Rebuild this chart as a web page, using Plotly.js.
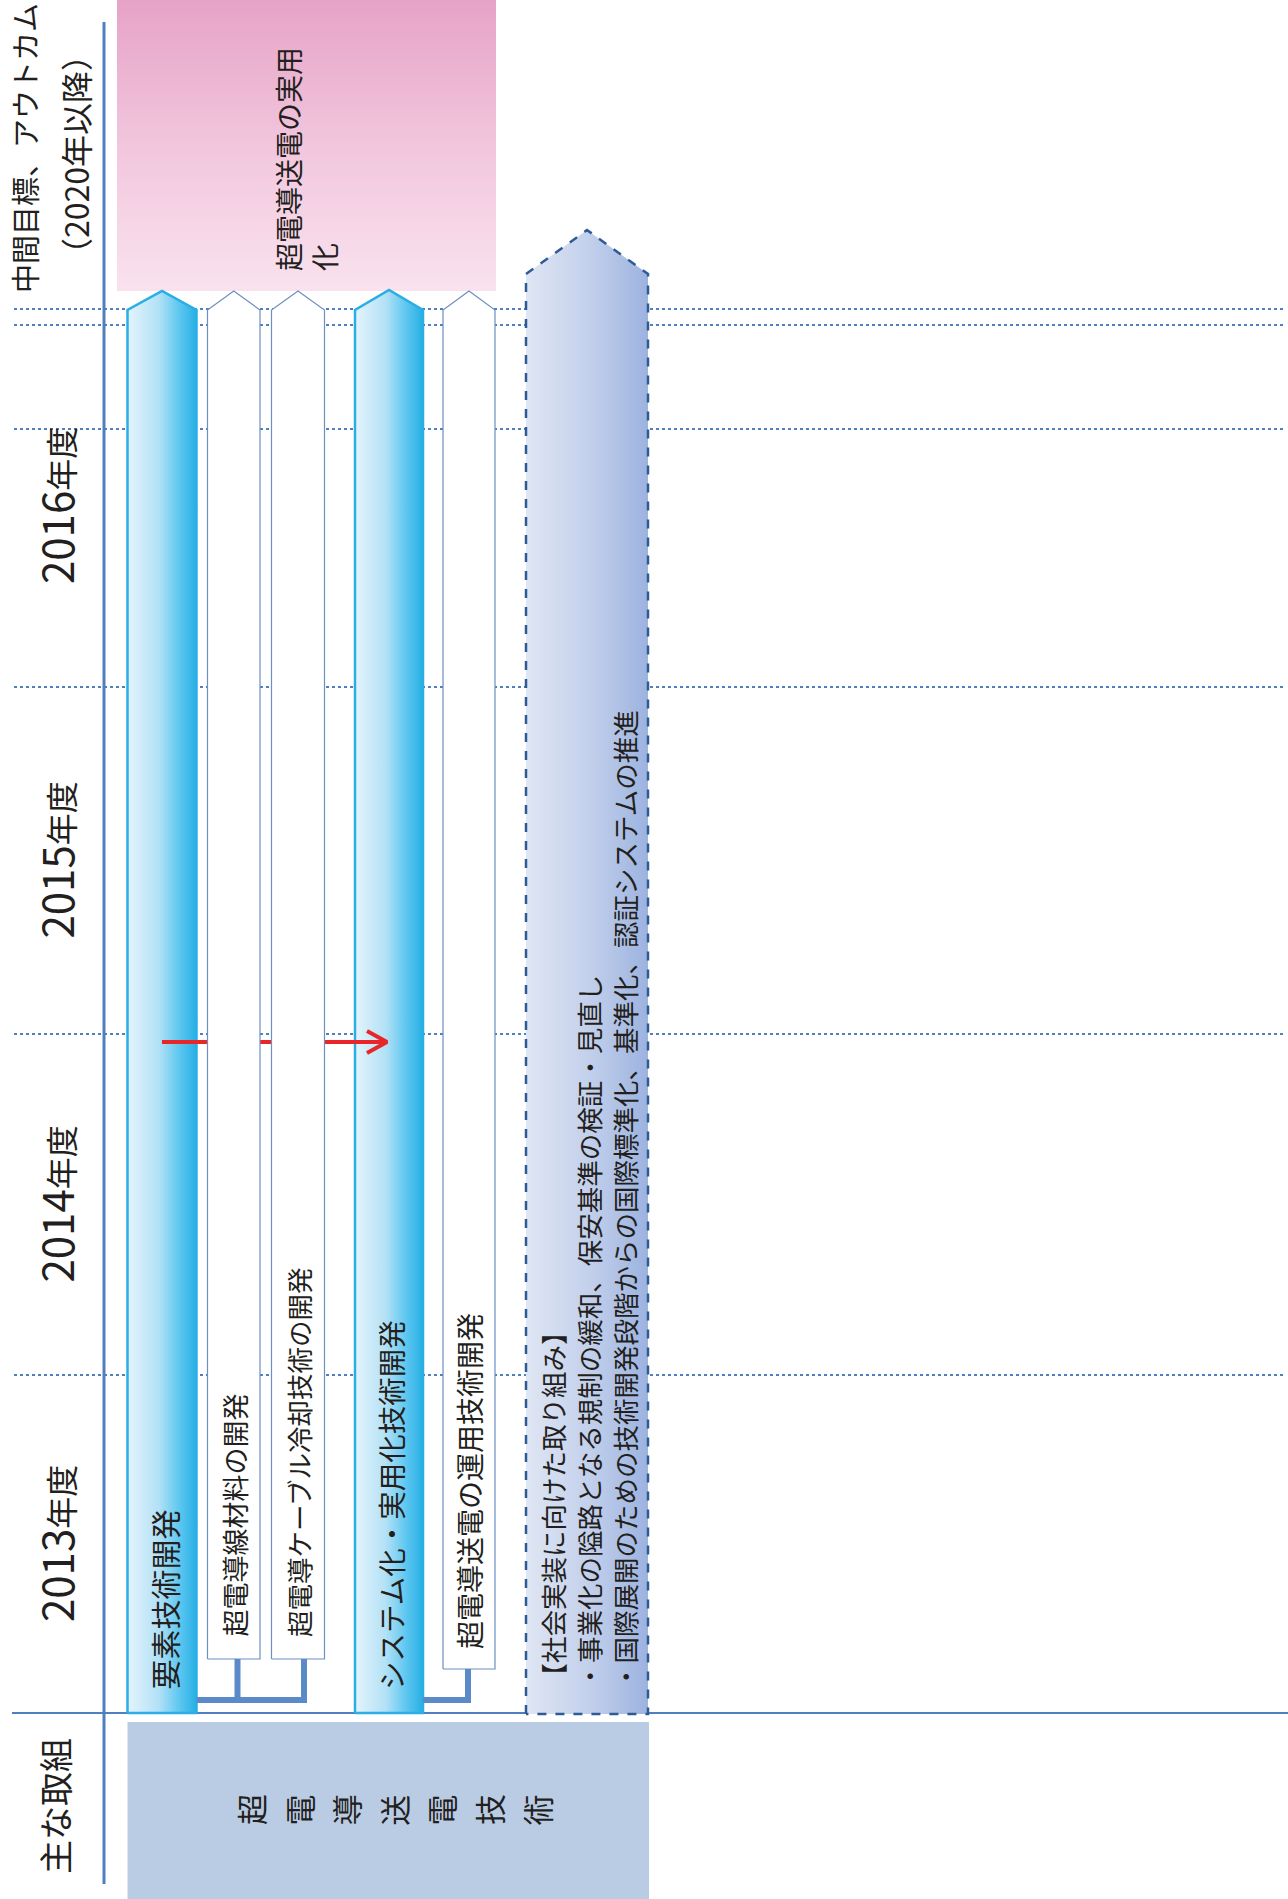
<!DOCTYPE html>
<html>
<head>
<meta charset="utf-8">
<script src="https://cdn.plot.ly/plotly-3.0.1.min.js"></script>
<style>
html,body{margin:0;padding:0;background:#fff;}
#chart{width:1288px;height:1899px;}
</style>
</head>
<body>
<div id="chart"></div>
<script>
// ---------------- DATA (texts of the roadmap) ----------------
const fiscalYears = ['2013', '2014', '2015', '2016'];
const yearSuffix = '年度';
const outcomeHeader = ['中間目標、アウトカム', '（2020年以降）'];
const rowHeader = '主な取組';
const themeName = '超電導送電技術';
const goalText = ['超電導送電の実用', '化'];
const mainTasks = ['要素技術開発', 'システム化・実用化技術開発'];
const subTasks = [['超電導線材料の開発', '超電導ケーブル冷却技術の開発'], ['超電導送電の運用技術開発']];
const socialLines = [
  '【社会実装に向けた取り組み】',
  '・事業化の隘路となる規制の緩和、保安基準の検証・見直し',
  '・国際展開のための技術開発段階からの国際標準化、基準化、認証システムの推進'
];

// ---------------- LAYOUT GEOMETRY (pixels) ----------------
const W = 1288, H = 1899;
const FONT = '"Noto Sans CJK JP", "Noto Sans", sans-serif';
const TXT = '#231f20';
const baseY = 1713;            // solid horizontal line (start of 2013)
const yearLines = [1713, 1375, 1034, 687, 325]; // band borders bottom->top
const extraDotted = [309, 429];
const lineBlue = '#4f7fbf';

// bar geometry: [x0, x1, shoulder, peak, bottom]
const mainGeom = [[127.5, 196.5, 310, 291, 1713], [355, 423, 310, 290, 1713]];
const subGeom = [[[207.5, 260, 310, 291, 1659], [271.5, 324.5, 310, 291, 1659]], [[443, 495, 310, 291, 1669]]];
const socialGeom = [526, 648, 274, 230, 1714];

const traces = [];
const shapes = [];
const ann = [];

function pentagon(g) {
  const [x0, x1, sh, pk, bt] = g;
  return {x: [x0, x0, (x0 + x1) / 2, x1, x1, x0], y: [bt, sh, pk, sh, bt, bt]};
}
function polyTrace(p, line, fill) {
  const t = {type: 'scatter', mode: 'lines', x: p.x, y: p.y, fill: 'toself',
    line: line, hoverinfo: 'skip', showlegend: false};
  Object.assign(t, fill);
  return t;
}
function lineTrace(xs, ys, color, width) {
  return {type: 'scatter', mode: 'lines', x: xs, y: ys, line: {color: color, width: width, simplify: false},
    hoverinfo: 'skip', showlegend: false};
}
function vText(text, x, y, size, xanchor, yanchor, extra) {
  const a = {text: text, x: x, y: y, xref: 'x', yref: 'y', showarrow: false, textangle: -90,
    xanchor: xanchor || 'center', yanchor: yanchor || 'middle',
    font: {family: FONT, size: size, color: TXT}, borderpad: 0};
  return Object.assign(a, extra || {});
}

// ---- grid lines (below everything) ----
yearLines.slice(1).concat(extraDotted).forEach(y => {
  shapes.push({type: 'line', layer: 'below', x0: 14, x1: 1284, y0: y, y1: y,
    line: {color: lineBlue, width: 2, dash: 'dot'}});
});
shapes.push({type: 'line', layer: 'below', x0: 12, x1: 1288, y0: baseY, y1: baseY, line: {color: lineBlue, width: 2}});
shapes.push({type: 'line', layer: 'below', x0: 104, x1: 104, y0: 22, y1: 1884, line: {color: lineBlue, width: 3}});

// ---- goal box (pink gradient) ----
traces.push(polyTrace({x: [117, 117, 496, 496, 117], y: [0, 291, 291, 0, 0]}, {width: 0},
  {fillgradient: {type: 'vertical', start: 0, stop: 291,
    colorscale: [[0, '#e6a3c7'], [0.55, '#f3c9df'], [1, '#f9e2ee']]}}));

// ---- main (blue) bars ----
const blueScale = [[0, '#e4f4fc'], [0.45, '#b3e1f6'], [0.75, '#5ec7f0'], [1, '#27afe5']];
mainGeom.forEach(g => {
  traces.push(polyTrace(pentagon(g), {color: '#2aaee4', width: 2.5},
    {fillgradient: {type: 'horizontal', start: g[0], stop: g[1], colorscale: blueScale}}));
});

// ---- social implementation (dashed) bar ----
traces.push(polyTrace(pentagon(socialGeom), {color: '#2f5b95', width: 2.5, dash: 'dash'},
  {fillgradient: {type: 'horizontal', start: socialGeom[0], stop: socialGeom[1],
    colorscale: [[0, '#dfe6f4'], [0.5, '#c4d1ec'], [1, '#9cb3df']]}}));

// ---- red arrow (behind white bars) ----
traces.push(lineTrace([162, 386], [1042, 1042], '#e8262a', 4));
traces.push(lineTrace([367, 387, 367], [1031, 1042, 1053], '#e8262a', 4));

// ---- white sub-task bars ----
subGeom.forEach(grp => grp.forEach(g => {
  traces.push(polyTrace(pentagon(g), {color: '#6d8fc2', width: 1.2}, {fillcolor: '#ffffff'}));
}));

// ---- connectors ----
const connColor = '#5b8ac8';
traces.push(lineTrace([196.5, 307], [1700, 1700], connColor, 6));
traces.push(lineTrace([237.5, 237.5], [1659, 1700], connColor, 6));
traces.push(lineTrace([304, 304], [1659, 1703], connColor, 6));
traces.push(lineTrace([423, 468, 468], [1700, 1700, 1669], connColor, 6));

// ---- theme box ----
traces.push(polyTrace({x: [127.5, 127.5, 649, 649, 127.5], y: [1722, 1899, 1899, 1722, 1722]}, {width: 0},
  {fillcolor: '#b9cce4'}));

// ---------------- TEXTS ----------------
// header
ann.push(vText(outcomeHeader[0], 24, 148, 29));
ann.push(vText(outcomeHeader[1], 75, 155, 32));
ann.push(vText(rowHeader, 54, 1806, 34));

// year labels centered in their bands
fiscalYears.forEach((yr, i) => {
  const yc = (yearLines[i] + yearLines[i + 1]) / 2;
  ann.push(vText('<span style="font-size:42px">' + yr + '</span><span style="font-size:32px">' + yearSuffix + '</span>',
    55, yc, 42));
});

// goal text
ann.push(vText(goalText.join('<br>'), 306, 272, 28, 'center', 'bottom', {align: 'left'}));

// main task labels
ann.push(vText(mainTasks[0], 163.5, 1691, 30, 'center', 'bottom'));
ann.push(vText(mainTasks[1], 390, 1691, 28.5, 'center', 'bottom'));
// sub task labels
ann.push(vText(subTasks[0][0], 234, 1638, 27, 'center', 'bottom'));
ann.push(vText(subTasks[0][1], 298.5, 1638, 26.5, 'center', 'bottom'));
ann.push(vText(subTasks[1][0], 469, 1650, 28, 'center', 'bottom'));

// social implementation lines
const socialX = [552, 588, 624];
socialLines.forEach((s, i) => ann.push(vText(s, socialX[i], 1691, 26.5, 'center', 'bottom')));

// theme characters spread across the box
Array.from(themeName).forEach((ch, i) => {
  ann.push(vText(ch, 250 + i * 47.6, 1810, 31));
});

const layout = {
  width: W, height: H,
  margin: {l: 0, r: 0, t: 0, b: 0, pad: 0},
  paper_bgcolor: '#ffffff', plot_bgcolor: '#ffffff',
  showlegend: false,
  xaxis: {range: [0, W], visible: false, fixedrange: true},
  yaxis: {range: [H, 0], visible: false, fixedrange: true},
  shapes: shapes,
  annotations: ann
};
Plotly.newPlot('chart', traces, layout, {staticPlot: true, displayModeBar: false});
</script>
</body>
</html>
